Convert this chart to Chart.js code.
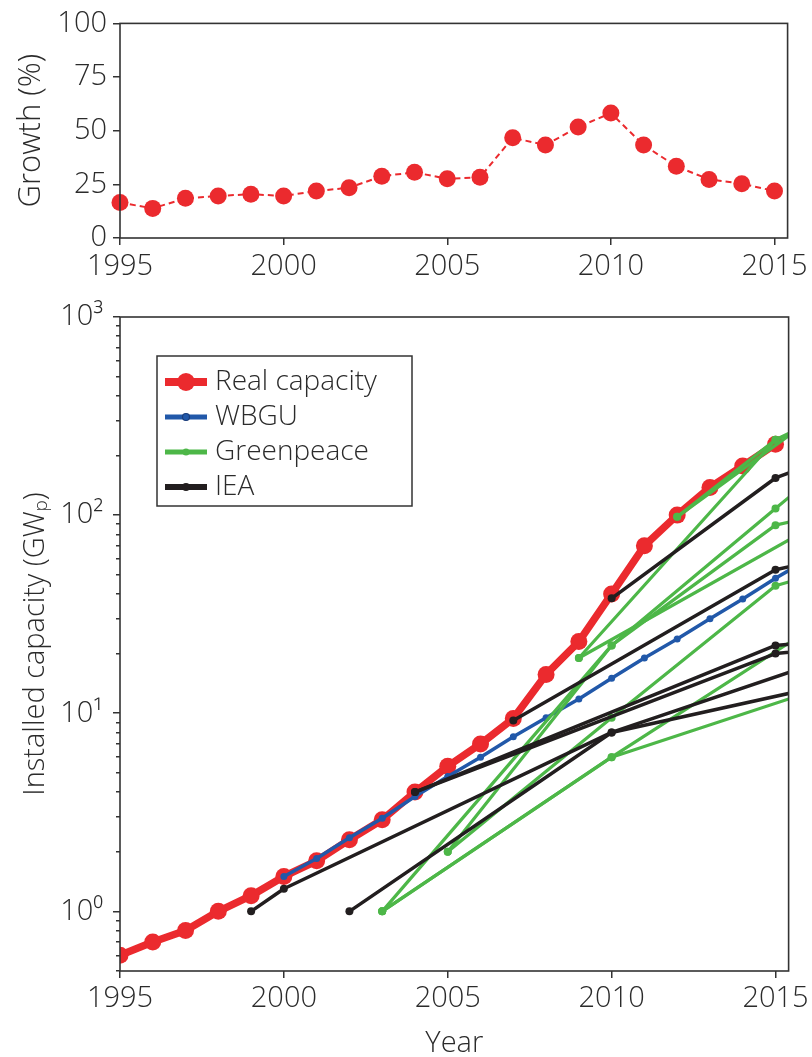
<!DOCTYPE html>
<html>
<head>
<meta charset="utf-8">
<script src="https://cdn.jsdelivr.net/npm/chart.js@4.4.0/dist/chart.umd.min.js"></script>
<style>
  html, body { margin: 0; padding: 0; background: #ffffff; overflow: hidden; }
  #growthBox { position: absolute; left: 0; top: 0; width: 812px; height: 290px; }
  #capBox { position: absolute; left: 0; top: 285px; width: 812px; height: 776px; }
</style>
</head>
<body>
<div id="growthBox"><canvas id="growth" width="812" height="290"></canvas></div>
<div id="capBox"><canvas id="capacity" width="812" height="776"></canvas></div>
<script>
// ---- data ----
const years = [1995, 1996, 1997, 1998, 1999, 2000, 2001, 2002, 2003, 2004, 2005,
               2006, 2007, 2008, 2009, 2010, 2011, 2012, 2013, 2014, 2015];
const growthPct = [16.5, 13.8, 18.5, 19.6, 20.4, 19.6, 21.9, 23.4, 28.8, 30.6, 27.6,
                   28.3, 46.7, 43.3, 51.7, 58.2, 43.3, 33.4, 27.3, 25.3, 21.9];
const realCapacity = [0.6, 0.7, 0.8, 1.0, 1.2, 1.5, 1.8, 2.3, 2.9, 4.0, 5.4,
                      7.0, 9.4, 15.7, 23, 40, 70, 100, 138, 177, 228];

// WBGU path: [year, GWp]
const wbguPath = [[2000, 1.5], [2001, 1.85], [2002, 2.35], [2003, 2.95], [2004, 3.8],
                  [2005, 4.8], [2006, 6.0], [2007, 7.6], [2008, 9.5], [2009, 11.8],
                  [2010, 15], [2011, 19], [2012, 23.7], [2013, 30], [2014, 37.7],
                  [2015, 48], [2016, 60]];

// Greenpeace scenarios: each a list of [year, GWp]
const greenpeacePaths = [
  [[2003, 1.0], [2010, 6.0], [2020, 21]],
  [[2003, 1.0], [2010, 6.0], [2020, 70]],
  [[2003, 1.0], [2010, 22], [2015, 89], [2020, 135]],
  [[2005, 2.0], [2010, 22], [2015, 108], [2020, 530]],
  [[2005, 2.0], [2010, 9.5], [2015, 44], [2020, 77]],
  [[2009, 19], [2015, 240], [2020, 600]],
  [[2009, 19], [2020, 200]],
  [[2012, 98], [2015, 240], [2020, 500]],
  [[2012, 98], [2020, 900]]
];

// IEA scenarios: each a list of [year, GWp]
const ieaPaths = [
  [[1999, 1.0], [2000, 1.3], [2010, 8.0], [2020, 29]],
  [[2002, 1.0], [2010, 8.0], [2020, 18.5]],
  [[2004, 4.0], [2015, 22], [2020, 26]],
  [[2004, 4.0], [2015, 20], [2020, 24]],
  [[2007, 9.2], [2015, 53], [2020, 80]],
  [[2010, 38], [2015, 154], [2020, 320]]
];

// axes
const xTickYears = [1995, 2000, 2005, 2010, 2015];
const growthTicks = [0, 25, 50, 75, 100];
const decadeTicks = [1, 10, 100, 1000];
const decadeLabels = ['10\u2070', '10\u00B9', '10\u00B2', '10\u00B3'];
const legendLabels = ['Real capacity', 'WBGU', 'Greenpeace', 'IEA'];

// ---- styles ----
const RED = '#EB2A2E';
const BLUE = '#2158A9';
const GREEN = '#4DB748';
const BLACK = '#221E1F';
const AXIS = '#333333';
const TEXT = '#2b2b2b';
const FONT = '"Open Sans", "DejaVu Sans", sans-serif';
const tickFont = { family: FONT, size: 29, weight: '300' };
const titleFont = { family: FONT, size: 29, weight: '300' };

// minor ticks of the log axis: 2..9 within each decade, plus 0.5..0.9
const minorLogTicks = [];
[0.1, 1, 10, 100].forEach(d => {
  for (let k = 2; k <= 9; k++) {
    const v = Math.round(k * d * 10) / 10;
    if (v >= 0.5) minorLogTicks.push(v);
  }
});

const toXY = path => path.map(p => ({ x: p[0], y: p[1] }));

// box round each plot area
const framePlugin = {
  id: 'frame',
  afterDraw(chart) {
    const { ctx, chartArea: a } = chart;
    ctx.save();
    ctx.strokeStyle = AXIS;
    ctx.lineWidth = 1.6;
    ctx.strokeRect(a.left, a.top, a.right - a.left, a.bottom - a.top);
    ctx.restore();
  }
};

const axisGrid = { drawOnChartArea: false, drawTicks: true, tickLength: 7, color: AXIS, lineWidth: 1.5 };

// ---- growth chart ----
new Chart(document.getElementById('growth'), {
  type: 'line',
  data: {
    datasets: [{
      data: years.map((y, i) => ({ x: y, y: growthPct[i] })),
      borderColor: RED,
      backgroundColor: RED,
      borderWidth: 2,
      borderDash: [6, 4],
      pointRadius: 8.5,
      pointHoverRadius: 8.5,
      pointBorderWidth: 0,
      pointBackgroundColor: RED,
      tension: 0,
      clip: false
    }]
  },
  options: {
    responsive: false,
    animation: false,
    devicePixelRatio: 1,
    events: [],
    layout: { padding: { top: 22, right: 20, left: 0, bottom: 0 } },
    plugins: { legend: { display: false }, tooltip: { enabled: false } },
    scales: {
      x: {
        type: 'linear', min: 1995, max: 2015.4,
        afterBuildTicks: s => { s.ticks = xTickYears.map(v => ({ value: v })); },
        afterFit: s => { s.height = 52; },
        ticks: { autoSkip: false, maxRotation: 0, padding: 4, color: TEXT, font: tickFont,
                 callback: v => String(v) },
        grid: axisGrid,
        border: { display: false }
      },
      y: {
        type: 'linear', min: 0, max: 100,
        afterBuildTicks: s => { s.ticks = growthTicks.map(v => ({ value: v })); },
        afterFit: s => { s.width = 120; },
        ticks: { autoSkip: false, padding: 6, color: TEXT, font: tickFont,
                 callback: v => String(v) },
        grid: axisGrid,
        border: { display: false },
        title: { display: true, text: 'Growth (%)', color: TEXT,
                 font: { family: FONT, size: 31, weight: '300' },
                 padding: { top: 13, bottom: 0 } }
      }
    }
  },
  plugins: [framePlugin]
});

// ---- capacity chart ----
const datasets = [];

ieaPaths.forEach(p => datasets.push({
  data: toXY(p), borderColor: BLACK, backgroundColor: BLACK, borderWidth: 3.5,
  pointRadius: 4, pointBorderWidth: 0, pointBackgroundColor: BLACK, order: 0
}));
greenpeacePaths.forEach(p => datasets.push({
  data: toXY(p), borderColor: GREEN, backgroundColor: GREEN, borderWidth: 3.2,
  pointRadius: 4, pointBorderWidth: 0, pointBackgroundColor: GREEN, order: 1
}));
datasets.push({
  data: toXY(wbguPath), borderColor: BLUE, backgroundColor: BLUE, borderWidth: 3.5,
  pointRadius: 3.5, pointBorderWidth: 0, pointBackgroundColor: BLUE, order: 2
});
datasets.push({
  data: years.map((y, i) => ({ x: y, y: realCapacity[i] })),
  borderColor: RED, backgroundColor: RED, borderWidth: 7.5,
  pointRadius: 8.5, pointBorderWidth: 0, pointBackgroundColor: RED, order: 3
});
datasets.forEach(d => {
  d.tension = 0;
  d.borderJoinStyle = 'round';
  d.borderCapStyle = 'round';
  d.pointHoverRadius = d.pointRadius;
  d.yAxisID = 'y';
});

// legend drawn inside the plot area
const legendStyles = [
  { color: RED, width: 8, r: 9 },
  { color: BLUE, width: 5, r: 3.5, ring: '#1a3d7a' },
  { color: GREEN, width: 5, r: 3.5 },
  { color: BLACK, width: 6, r: 4 }
];
const legendPlugin = {
  id: 'scenarioLegend',
  afterDraw(chart) {
    const { ctx, chartArea: a } = chart;
    const bx = a.left + 37, by = a.top + 39, bw = 255, bh = 150;
    ctx.save();
    ctx.fillStyle = '#ffffff';
    ctx.fillRect(bx, by, bw, bh);
    ctx.strokeStyle = AXIS;
    ctx.lineWidth = 1.5;
    ctx.strokeRect(bx, by, bw, bh);
    ctx.font = '300 28px ' + FONT;
    ctx.textBaseline = 'middle';
    ctx.textAlign = 'left';
    legendLabels.forEach((label, i) => {
      const st = legendStyles[i];
      const cy = by + 26 + i * 35;
      ctx.strokeStyle = st.color;
      ctx.lineWidth = st.width;
      ctx.lineCap = 'butt';
      ctx.beginPath();
      ctx.moveTo(bx + 8, cy);
      ctx.lineTo(bx + 50, cy);
      ctx.stroke();
      ctx.fillStyle = st.color;
      ctx.beginPath();
      ctx.arc(bx + 29, cy, st.r, 0, Math.PI * 2);
      ctx.fill();
      if (st.ring) {
        ctx.strokeStyle = st.ring;
        ctx.lineWidth = 1.2;
        ctx.stroke();
      }
      ctx.fillStyle = TEXT;
      ctx.fillText(label, bx + 58, cy);
    });
    ctx.restore();
  }
};

new Chart(document.getElementById('capacity'), {
  type: 'line',
  data: { datasets },
  options: {
    responsive: false,
    animation: false,
    devicePixelRatio: 1,
    events: [],
    layout: { padding: { top: 32, right: 20, left: 0, bottom: 0 } },
    plugins: { legend: { display: false }, tooltip: { enabled: false } },
    scales: {
      x: {
        type: 'linear', min: 1995, max: 2015.4,
        afterBuildTicks: s => { s.ticks = xTickYears.map(v => ({ value: v })); },
        afterFit: s => { s.height = 90; },
        ticks: { autoSkip: false, maxRotation: 0, padding: 3, color: TEXT, font: tickFont,
                 callback: v => String(v) },
        grid: axisGrid,
        border: { display: false },
        title: { display: true, text: 'Year', color: TEXT, font: titleFont,
                 padding: { top: 0, bottom: 0 } }
      },
      y: {
        type: 'logarithmic', position: 'left', weight: 1, min: 0.5, max: 1000,
        afterBuildTicks: s => { s.ticks = decadeTicks.map(v => ({ value: v })); },
        afterFit: s => { s.width = 120; },
        ticks: { autoSkip: false, padding: 10, color: TEXT, font: tickFont,
                 callback: v => { const i = decadeTicks.indexOf(v); return i >= 0 ? decadeLabels[i] : ''; } },
        grid: axisGrid,
        border: { display: false },
        title: { display: true, text: 'Installed capacity (GW\u209A)', color: TEXT, font: titleFont,
                 padding: { top: 18, bottom: 0 } }
      },
      yMinor: {
        type: 'logarithmic', position: 'left', weight: 0, min: 0.5, max: 1000,
        afterBuildTicks: s => { s.ticks = minorLogTicks.map(v => ({ value: v })); },
        afterFit: s => { s.width = 0; },
        ticks: { display: false },
        grid: { drawOnChartArea: false, drawTicks: true, tickLength: 4, color: AXIS, lineWidth: 1.5 },
        border: { display: false }
      }
    }
  },
  plugins: [framePlugin, legendPlugin]
});
</script>
</body>
</html>
